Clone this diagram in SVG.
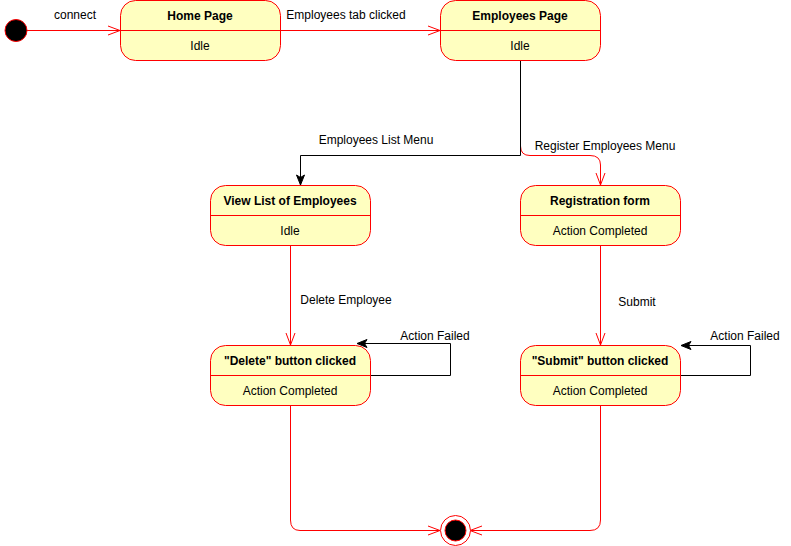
<svg xmlns="http://www.w3.org/2000/svg" width="791" height="546" viewBox="0 0 791 546">
<defs>
<marker id="open" markerUnits="userSpaceOnUse" markerWidth="14" markerHeight="12" viewBox="0 0 14 12" refX="13" refY="6" orient="auto">
<path d="M1,1.5 L13,6 L1,10.5" fill="none" stroke="#FF0000" stroke-width="1"/>
</marker>
<marker id="block" markerUnits="userSpaceOnUse" markerWidth="12" markerHeight="12" viewBox="0 0 12 12" refX="11" refY="6" orient="auto">
<path d="M1,2 L11,6 L1,10 L3.5,6 Z" fill="#000" stroke="#000" stroke-width="1"/>
</marker>
<style>
.st{fill:#FFFFC0;stroke:#FF0000;stroke-width:1}
.dv{stroke:#FF0000;stroke-width:1}
.t{font-family:"Liberation Sans",Arial,sans-serif;font-size:12px;fill:#000;text-anchor:middle}
.b{font-weight:bold}
.r{fill:none;stroke:#FF0000;stroke-width:1}
.k{fill:none;stroke:#000;stroke-width:1}
</style>
</defs>
<rect width="791" height="546" fill="#fff"/>
<g id="connectors">
<path class="r" d="M520.5,146 Q520.5,155.5 530,155.5 L590,155.5 Q600.5,155.5 600.5,165 L600.5,185" marker-end="url(#open)"/>
<path class="k" d="M520.5,60 L520.5,155.5 L300.5,155.5 L300.5,185" marker-end="url(#block)"/>
<path class="r" d="M27,30.5 L120,30.5" marker-end="url(#open)"/>
<path class="r" d="M280,30.5 L440,30.5" marker-end="url(#open)"/>
<path class="r" d="M290.5,245 L290.5,345" marker-end="url(#open)"/>
<path class="r" d="M600.5,245 L600.5,345" marker-end="url(#open)"/>
<path class="k" d="M370,375.5 L450.5,375.5 L450.5,343.5 L357,343.5" marker-end="url(#block)"/>
<path class="k" d="M680,375.5 L750.5,375.5 L750.5,345.5 L681,345.5" marker-end="url(#block)"/>
<path class="r" d="M290.5,405 L290.5,520 Q290.5,530.5 300,530.5 L440,530.5" marker-end="url(#open)"/>
<path class="r" d="M600.5,405 L600.5,520 Q600.5,530.5 590,530.5 L470,530.5" marker-end="url(#open)"/>
<text class="t" x="75" y="19">connect</text>
<text class="t" x="346" y="19">Employees tab clicked</text>
<text class="t" x="376" y="144">Employees List Menu</text>
<text class="t" x="605" y="150">Register Employees Menu</text>
<text class="t" x="346" y="304">Delete Employee</text>
<text class="t" x="637" y="306">Submit</text>
<text class="t" x="435" y="340">Action Failed</text>
<text class="t" x="745" y="340">Action Failed</text>
</g>
<g id="initial">
<circle cx="16" cy="30.5" r="11" fill="#000" stroke="#FF0000" stroke-width="1"/>
</g>
<g id="home">
<rect class="st" x="120.5" y="0.5" width="160" height="60" rx="15"/>
<line class="dv" x1="120.5" y1="30.5" x2="280.5" y2="30.5"/>
<text class="t b" x="200" y="20">Home Page</text>
<text class="t" x="200" y="50">Idle</text>
</g>
<g id="employees">
<rect class="st" x="440.5" y="0.5" width="160" height="60" rx="15"/>
<line class="dv" x1="440.5" y1="30.5" x2="600.5" y2="30.5"/>
<text class="t b" x="520" y="20">Employees Page</text>
<text class="t" x="520" y="50">Idle</text>
</g>
<g id="viewlist">
<rect class="st" x="210.5" y="185.5" width="160" height="60" rx="15"/>
<line class="dv" x1="210.5" y1="215.5" x2="370.5" y2="215.5"/>
<text class="t b" x="290" y="205">View List of Employees</text>
<text class="t" x="290" y="235">Idle</text>
</g>
<g id="registration">
<rect class="st" x="520.5" y="185.5" width="160" height="60" rx="15"/>
<line class="dv" x1="520.5" y1="215.5" x2="680.5" y2="215.5"/>
<text class="t b" x="600" y="205">Registration form</text>
<text class="t" x="600" y="235">Action Completed</text>
</g>
<g id="delete">
<rect class="st" x="210.5" y="345.5" width="160" height="60" rx="15"/>
<line class="dv" x1="210.5" y1="375.5" x2="370.5" y2="375.5"/>
<text class="t b" x="290" y="365">"Delete" button clicked</text>
<text class="t" x="290" y="395">Action Completed</text>
</g>
<g id="submit">
<rect class="st" x="520.5" y="345.5" width="160" height="60" rx="15"/>
<line class="dv" x1="520.5" y1="375.5" x2="680.5" y2="375.5"/>
<text class="t b" x="600" y="365">"Submit" button clicked</text>
<text class="t" x="600" y="395">Action Completed</text>
</g>
<g id="final">
<circle cx="455.5" cy="530.5" r="15" fill="#fff" stroke="#FF0000" stroke-width="1"/>
<circle cx="455.5" cy="530.5" r="10.5" fill="#000" stroke="#FF0000" stroke-width="1"/>
</g>
</svg>
